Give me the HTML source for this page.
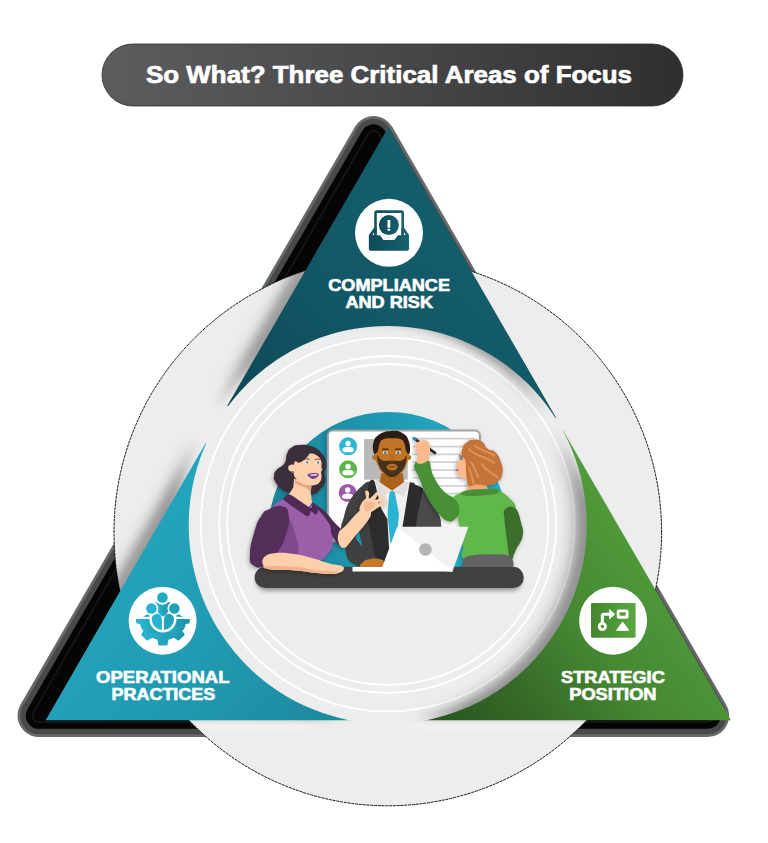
<!DOCTYPE html>
<html>
<head>
<meta charset="utf-8">
<title>So What? Three Critical Areas of Focus</title>
<style>
  html, body { margin: 0; padding: 0; background: #ffffff; }
  body { width: 768px; height: 843px; overflow: hidden; font-family: "Liberation Sans", sans-serif; }
  svg { display: block; }
  text { font-family: "Liberation Sans", sans-serif; font-weight: bold; fill: #ffffff; stroke: #ffffff; stroke-width: 0.6px; }
</style>
</head>
<body>
<svg width="768" height="843" viewBox="0 0 768 843">
  <defs>
    <linearGradient id="gTitle" x1="0" y1="0" x2="1" y2="0">
      <stop offset="0" stop-color="#5c5d5f"/>
      <stop offset="0.45" stop-color="#4a4a4c"/>
      <stop offset="1" stop-color="#2f2f30"/>
    </linearGradient>
    <linearGradient id="gTeal" gradientUnits="userSpaceOnUse" x1="470" y1="180" x2="260" y2="420">
      <stop offset="0" stop-color="#145f6d"/>
      <stop offset="0.55" stop-color="#125766"/>
      <stop offset="1" stop-color="#0e4956"/>
    </linearGradient>
    <linearGradient id="gBlue" gradientUnits="userSpaceOnUse" x1="120" y1="560" x2="330" y2="740">
      <stop offset="0" stop-color="#23a4bc"/>
      <stop offset="0.5" stop-color="#2099b0"/>
      <stop offset="1" stop-color="#1c889d"/>
    </linearGradient>
    <linearGradient id="gGreen" gradientUnits="userSpaceOnUse" x1="690" y1="560" x2="470" y2="740">
      <stop offset="0" stop-color="#529f3c"/>
      <stop offset="0.45" stop-color="#458832"/>
      <stop offset="0.75" stop-color="#376b28"/>
      <stop offset="1" stop-color="#2b5820"/>
    </linearGradient>
    <!-- coloured triangle minus inner disc -->
    <clipPath id="clipOuter"><circle cx="387.8" cy="532" r="273.8"/></clipPath>
    <mask id="mTri">
      <rect x="0" y="0" width="768" height="843" fill="#000"/>
      <polygon points="388.3,127 731.3,720.5 45.3,720.5" fill="#fff"/>
      <circle cx="387.7" cy="525" r="199" fill="#000"/>
    </mask>
    <linearGradient id="gShDisc" gradientUnits="userSpaceOnUse" x1="320" y1="0" x2="470" y2="0">
      <stop offset="0" stop-color="#000"/><stop offset="1" stop-color="#fff"/>
    </linearGradient>
    <mask id="mShDisc"><rect x="0" y="0" width="768" height="843" fill="#fff"/><circle cx="387.7" cy="525" r="199" fill="url(#gShDisc)"/></mask>
    <mask id="mNoDisc"><rect x="0" y="0" width="768" height="843" fill="#fff"/><circle cx="387.7" cy="525" r="199" fill="#000"/></mask>
    <filter id="blur5" x="-20%" y="-20%" width="140%" height="140%"><feGaussianBlur stdDeviation="5"/></filter>
    <clipPath id="clipIllu"><rect x="250" y="400" width="290" height="176"/></clipPath>
    <filter id="ds" x="-20%" y="-20%" width="140%" height="140%"><feDropShadow dx="-1" dy="1.5" stdDeviation="2.2" flood-color="#000" flood-opacity="0.32"/></filter>
    <clipPath id="clipAboveTable"><rect x="240" y="400" width="300" height="167"/></clipPath>
    <linearGradient id="gBgBlue" gradientUnits="userSpaceOnUse" x1="273" y1="0" x2="509" y2="0">
      <stop offset="0" stop-color="#1b879d"/><stop offset="0.5" stop-color="#1f9ab2"/><stop offset="1" stop-color="#28b3cf"/>
    </linearGradient>
    <filter id="blur8" x="-20%" y="-20%" width="140%" height="140%"><feGaussianBlur stdDeviation="8"/></filter>
    <filter id="blur4" x="-20%" y="-20%" width="140%" height="140%"><feGaussianBlur stdDeviation="4"/></filter>
    <filter id="blur6" x="-20%" y="-20%" width="140%" height="140%"><feGaussianBlur stdDeviation="6"/></filter>
    <filter id="blur2" x="-20%" y="-20%" width="140%" height="140%"><feGaussianBlur stdDeviation="2"/></filter>
    <radialGradient id="rimFade" gradientUnits="userSpaceOnUse" cx="387.7" cy="525" r="199">
      <stop offset="0" stop-color="#000"/>
      <stop offset="0.90" stop-color="#000"/>
      <stop offset="1" stop-color="#fff"/>
    </radialGradient>
    <mask id="mRim"><circle cx="387.7" cy="525" r="199" fill="url(#rimFade)"/></mask>
    <clipPath id="clipDisc"><circle cx="387.7" cy="525" r="199"/></clipPath>
    <linearGradient id="gIconTeal" x1="0" y1="0" x2="1" y2="0">
      <stop offset="0" stop-color="#0f4b58"/><stop offset="1" stop-color="#16606e"/>
    </linearGradient>
    <linearGradient id="gIconBlue" x1="0" y1="0" x2="1" y2="0">
      <stop offset="0" stop-color="#2bb8d4"/><stop offset="1" stop-color="#1f93a9"/>
    </linearGradient>
    <linearGradient id="gIconGreen" x1="0" y1="0" x2="1" y2="0">
      <stop offset="0" stop-color="#43862f"/><stop offset="1" stop-color="#58a742"/>
    </linearGradient>
  </defs>

  <!-- ===== Title pill ===== -->
  <g id="title">
    <rect x="102" y="44" width="581" height="62" rx="31" ry="31" fill="url(#gTitle)" stroke="#2c2c2d" stroke-width="0.8"/>
    <text id="titleText" x="389" y="83" font-size="24" style="stroke-width:0.7px" text-anchor="middle" textLength="486" lengthAdjust="spacingAndGlyphs">So What? Three Critical Areas of Focus</text>
  </g>

  <!-- ===== Black rounded shadow triangle ===== -->
  <g id="blackTri" stroke-linejoin="round" fill="none">
    <polygon points="373.6,137.6 707.6,715.6 39.0,715.6" stroke="#68696b" stroke-width="43" fill="#68696b"/>
    <polygon points="373.6,137.6 707.6,715.6 39.0,715.6" stroke="#48494b" stroke-width="37.5" fill="#48494b"/>
    <polygon points="373.6,137.6 707.6,715.6 39.0,715.6" stroke="#050505" stroke-width="26.5" fill="#050505"/>
    <polygon points="373.6,137.6 707.6,715.6 39.0,715.6" stroke="#151515" stroke-width="15" fill="none"/>
    <polygon points="373.6,137.6 707.6,715.6 39.0,715.6" stroke="#050505" stroke-width="11" fill="#050505"/>
  </g>

  <!-- ===== Outer grey circle ===== -->
  <circle cx="387.8" cy="532" r="273.8" fill="#ededed"/>
  <circle cx="387.8" cy="532" r="273.8" fill="none" stroke="#081616" stroke-width="1" stroke-dasharray="3 0.8" opacity="1"/>

  <!-- ===== Inner disc ===== -->
  <g id="disc">
    <circle cx="387.7" cy="525" r="199" fill="#ededed"/>
    <g fill="none" stroke="#ffffff" stroke-width="1.9">
      <circle cx="387.7" cy="524.5" r="186.9"/>
      <circle cx="387.7" cy="524.5" r="168.5"/>
      <circle cx="387.7" cy="524.5" r="160.5"/>
    </g>
  </g>

  <!-- ===== Shadows cast on grey circle ===== -->
  <g id="shadows" clip-path="url(#clipOuter)">
    <g mask="url(#mNoDisc)">
      <g transform="translate(-26,5)" filter="url(#blur5)" fill="#ffffff" opacity="0.7"><g mask="url(#mTri)">
      <polygon points="388.3,127 556.2,417.6 388,525 226.8,405.6"/>
      <polygon points="45.3,720.5 204.9,443 388,525 351,720.5"/>
      <polygon points="731.3,720.5 563.4,431 388,525 423.6,720.5"/>
      </g></g>
    </g>
    <g mask="url(#mShDisc)">
    <g transform="translate(-17,-4)" filter="url(#blur6)" fill="#000000" opacity="0.17"><g mask="url(#mTri)">
      <polygon points="388.3,127 556.2,417.6 388,525 226.8,405.6"/>
      <polygon points="45.3,720.5 204.9,443 388,525 351,720.5"/>
      <polygon points="731.3,720.5 563.4,431 388,525 423.6,720.5"/>
    </g></g>
    <g transform="translate(-9,-2)" filter="url(#blur4)" fill="#000000" opacity="0.25"><g mask="url(#mTri)">
      <polygon points="388.3,127 556.2,417.6 388,525 226.8,405.6"/>
      <polygon points="45.3,720.5 204.9,443 388,525 351,720.5"/>
      <polygon points="731.3,720.5 563.4,431 388,525 423.6,720.5"/>
    </g></g>
    </g>
  </g>

  <!-- ===== Coloured triangle pieces ===== -->
  <g id="pieces" mask="url(#mTri)">
    <polygon points="388.3,127 556.2,417.6 388,525 226.8,405.6" fill="url(#gTeal)"/>
    <polygon points="45.3,720.5 204.9,443 388,525 351,720.5" fill="url(#gBlue)"/>
    <polygon points="731.3,720.5 563.4,431 388,525 423.6,720.5" fill="url(#gGreen)"/>
  </g>

  <!-- ===== Illustration ===== -->
  <g id="illustration">
<g clip-path="url(#clipIllu)"><circle cx="388.6" cy="532.2" r="120.3" fill="url(#gBgBlue)"/></g>
<rect x="324.5" y="431" width="156" height="112" rx="6" fill="#000" opacity="0.16" filter="url(#blur2)"/>
<rect x="327.9" y="430.5" width="152" height="111" rx="5" fill="#ffffff" stroke="#a3a3a3" stroke-width="2"/>
<rect x="364.1" y="439.1" width="43.6" height="40.6" fill="#b9b9b9"/>
<line x1="412.5" y1="438.7" x2="475" y2="438.7" stroke="#d3d3d3" stroke-width="1.8"/>
<line x1="412.5" y1="446.6" x2="475" y2="446.6" stroke="#d3d3d3" stroke-width="1.8"/>
<line x1="412.5" y1="454.4" x2="475" y2="454.4" stroke="#d3d3d3" stroke-width="1.8"/>
<line x1="412.5" y1="462.2" x2="475" y2="462.2" stroke="#d3d3d3" stroke-width="1.8"/>
<line x1="412.5" y1="470.1" x2="475" y2="470.1" stroke="#d3d3d3" stroke-width="1.8"/>
<line x1="412.5" y1="477.9" x2="475" y2="477.9" stroke="#d3d3d3" stroke-width="1.8"/>
<line x1="412.5" y1="485.8" x2="475" y2="485.8" stroke="#d3d3d3" stroke-width="1.8"/>
<line x1="412.5" y1="493.6" x2="475" y2="493.6" stroke="#d3d3d3" stroke-width="1.8"/>
<circle cx="348.1" cy="446.3" r="9" fill="#2bb6d6"/>
<circle cx="348.1" cy="443.4" r="2.65" fill="#ffffff"/>
<path d="M342.2,450.4 C342.2,447.9 345.1,446.8 348.1,446.8 C351.1,446.8 354.0,447.9 354.0,450.4 C354.0,451.7 351.1,452.3 348.1,452.3 C345.1,452.3 342.2,451.7 342.2,450.4 Z" fill="#ffffff"/>
<circle cx="348.1" cy="469.3" r="9" fill="#5cb848"/>
<circle cx="348.1" cy="466.4" r="2.65" fill="#ffffff"/>
<path d="M342.2,473.4 C342.2,470.9 345.1,469.8 348.1,469.8 C351.1,469.8 354.0,470.9 354.0,473.4 C354.0,474.7 351.1,475.3 348.1,475.3 C345.1,475.3 342.2,474.7 342.2,473.4 Z" fill="#ffffff"/>
<circle cx="347.7" cy="492.9" r="9" fill="#9b5aa8"/>
<circle cx="347.7" cy="490.0" r="2.65" fill="#ffffff"/>
<path d="M341.8,497.0 C341.8,494.5 344.7,493.4 347.7,493.4 C350.7,493.4 353.6,494.5 353.6,497.0 C353.6,498.3 350.7,498.9 347.7,498.9 C344.7,498.9 341.8,498.3 341.8,497.0 Z" fill="#ffffff"/>
<g id="table"><rect x="256" y="571" width="266" height="20" rx="10" fill="#000" opacity="0.35" filter="url(#blur2)"/>
<rect x="254.6" y="566.8" width="269.2" height="21.2" rx="10.6" fill="#414141"/></g>
<g id="man" clip-path="url(#clipAboveTable)"><path d="M374.5,481.0 C365.0,481.7 367.1,481.8 362.0,486.0 C356.9,490.2 352.8,495.2 349.0,502.0 C345.2,508.8 344.6,515.2 343.0,520.0 C341.4,524.8 341.8,522.2 341.2,526.0 C340.7,529.9 339.8,535.1 340.3,539.1 C340.9,543.0 339.7,540.3 343.9,545.8 C348.0,551.4 341.6,562.5 361.0,566.9 C380.5,571.4 424.9,575.9 441.0,568.0 C457.1,560.1 442.0,538.5 441.3,527.2 C440.6,515.9 440.0,517.9 437.5,511.4 C434.9,504.9 432.7,499.7 428.5,494.5 C424.2,489.3 419.8,487.9 416.1,485.5 C412.3,483.0 418.0,483.2 409.7,482.3 C401.4,481.4 384.0,480.2 374.5,481.0 Z" fill="#404040" />
<path d="M358.7,530.2 L362.5,547.1 L355.3,538.0 Z" fill="#1f97af" />
<path d="M421.7,492.3 C423.9,488.0 425.3,490.7 428.5,494.5 C431.6,498.3 434.9,504.9 437.5,511.4 C440.0,517.9 440.5,520.4 441.3,527.2 C442.1,533.9 446.8,541.6 441.3,545.2 C435.8,548.8 418.6,551.1 413.8,545.2 C409.0,539.4 415.6,526.5 417.2,515.9 C418.8,505.3 419.4,496.5 421.7,492.3 Z" fill="#4a4a4a" />
<path d="M409.7,482.3 L423.3,488.2 L417.2,515.9 L413.8,545.2 L398.0,545.2 L401.4,518.2 Z" fill="#2b2b2b" />
<path d="M374.5,481.0 C372.0,478.8 370.1,479.6 368.9,483.9 C367.7,488.1 365.7,507.4 365.7,513.0 C365.8,518.6 368.5,522.6 369.2,526.0 C370.0,529.5 370.6,534.9 371.5,539.1 C372.3,543.2 373.8,554.5 375.4,557.3 C377.0,560.1 381.9,560.9 383.6,560.2 C385.3,559.5 387.1,554.4 388.1,552.1 C389.2,549.8 391.4,548.2 391.4,543.0 C391.4,537.8 388.6,518.8 388.1,513.0 C387.7,507.3 389.7,504.3 387.9,500.0 C386.0,495.7 377.0,483.1 374.5,481.0 Z" fill="#2c2c2c" />
<path d="M374.5,481.0 L409.7,482.3 L402.8,525.0 L398.0,548.0 L389.0,548.0 L387.4,519.0 L381.2,508.5 Z" fill="#f0f0f0" />
<path d="M381.4,473.2 L402.8,473.2 L404.1,482.3 L392.1,490.8 L379.5,482.3 Z" fill="#a9631d" />
<path d="M374.5,481.0 L379.7,481.9 L391.0,491.7 L381.4,496.0 Z" fill="#dfdfdf" />
<path d="M409.7,482.3 L404.1,482.0 L393.1,491.7 L404.1,496.4 Z" fill="#dfdfdf" />
<path d="M390.0,491.2 L394.4,491.2 L395.4,495.5 L399.0,514.0 L397.0,535.0 L391.2,543.5 L390.4,543.0 L387.5,514.0 L389.2,495.5 Z" fill="#29b3d4" />
<circle cx="374.9" cy="457.3" r="2.6" fill="#b86d22"/>
<circle cx="408.6" cy="457.3" r="2.6" fill="#b86d22"/>
<path d="M375.8,444.5 C371.3,449.7 374.7,450.2 375.2,455.6 C375.6,461.0 375.3,460.0 377.5,464.7 C379.7,469.4 379.3,470.0 383.2,473.2 C387.1,476.4 387.4,476.7 392.1,476.7 C396.8,476.7 397.1,476.4 400.9,473.2 C404.8,470.0 404.4,469.4 406.4,464.7 C408.4,460.0 408.1,461.0 408.5,455.6 C408.8,450.2 412.1,449.7 407.7,444.5 C403.3,439.3 400.6,436.1 392.1,436.1 C383.6,436.1 380.3,439.3 375.8,444.5 Z" fill="#bf7426" />
<path d="M374.1,453.4 C373.1,451.6 372.2,447.6 373.3,443.2 C374.4,438.9 374.7,437.6 378.8,434.8 C382.9,431.9 385.2,431.4 390.8,431.0 C396.4,430.6 398.5,430.7 402.8,433.2 C407.0,435.7 407.4,437.0 409.0,441.7 C410.6,446.4 410.2,451.2 409.5,453.4 C408.9,455.6 407.3,453.1 406.1,451.0 C405.0,449.0 405.9,447.2 404.7,444.5 C403.6,441.9 404.1,441.0 401.2,439.6 C398.3,438.1 396.3,438.3 392.1,438.3 C387.8,438.3 385.9,438.1 383.0,439.6 C380.0,441.0 380.5,441.9 379.3,444.5 C378.1,447.2 379.0,449.0 377.8,451.0 C376.5,453.1 375.1,455.2 374.1,453.4 Z" fill="#2b1d14" />
<path d="M377.5,455.2 C377.1,456.4 377.0,460.0 378.5,464.1 C380.1,468.1 380.9,469.6 384.0,472.7 C387.2,475.7 388.3,477.0 392.1,477.0 C395.9,477.0 397.0,475.7 400.2,472.7 C403.3,469.6 404.0,468.1 405.5,464.1 C407.0,460.0 406.7,456.4 406.4,455.2 C406.1,454.1 405.8,457.7 404.1,459.1 C402.3,460.5 401.6,460.8 398.9,461.1 C396.1,461.3 395.2,460.2 392.1,460.2 C388.9,460.2 388.1,461.3 385.3,461.1 C382.5,460.8 381.9,460.5 380.1,459.1 C378.3,457.7 377.9,454.1 377.5,455.2 Z" fill="#44301b" />
<ellipse cx="392.1" cy="467.1" rx="5.6" ry="3.4" fill="#b96f24"/>
<rect x="389.0" y="466.1" width="6.4" height="1.2" fill="#7f4718"/>
<ellipse cx="385.3" cy="452.7" rx="2.8" ry="1.4" fill="#e8e2da"/>
<circle cx="385.3" cy="452.7" r="1.25" fill="#55667c"/>
<rect x="382.0" y="448.6" width="6.6" height="1.1" fill="#2b1d14"/>
<ellipse cx="398.2" cy="452.7" rx="2.8" ry="1.4" fill="#e8e2da"/>
<circle cx="398.2" cy="452.7" r="1.25" fill="#55667c"/>
<rect x="394.9" y="448.6" width="6.6" height="1.1" fill="#2b1d14"/>
<path d="M391.0,454.3 L393.4,454.3 L394.4,461.5 L390.0,461.5 Z" fill="#b0681f" opacity="0.55"/>
<path d="M362.1,567.7 C357.4,566.4 360.9,564.0 362.9,562.0 C364.9,559.9 366.5,559.5 370.7,558.9 C375.0,558.2 378.0,558.3 381.1,559.4 C384.3,560.5 383.8,561.6 384.3,563.5 C384.8,565.5 388.4,566.7 383.2,567.7 C378.1,568.7 366.9,569.0 362.1,567.7 Z" fill="#c47a2a" /></g>
<g id="lwoman" filter="url(#ds)"><path d="M299.5,445.0 C304.7,444.6 305.5,444.2 311.2,446.3 C316.9,448.4 317.0,448.4 321.0,452.8 C324.9,457.1 325.0,457.2 325.9,462.6 C326.8,467.9 324.7,467.9 324.5,473.0 C324.3,478.0 326.2,477.3 325.3,481.4 C324.3,485.6 324.4,485.1 321.0,488.6 C317.6,492.1 317.5,493.8 312.5,494.5 C307.5,495.1 308.0,491.7 302.1,491.2 C296.2,490.7 295.7,493.0 290.4,492.5 C285.0,492.0 285.9,492.0 281.9,489.2 C277.9,486.5 277.5,485.7 275.4,482.1 C273.3,478.4 273.7,478.9 274.1,475.6 C274.4,472.3 273.9,473.0 276.7,469.7 C279.5,466.4 281.7,467.5 284.5,463.2 C287.3,458.9 285.2,457.6 287.1,453.4 C289.0,449.3 288.4,449.8 291.7,447.6 C295.0,445.3 294.3,445.3 299.5,445.0 Z" fill="#3a2f3a" />
<path d="M273.8,505.8 C278.1,500.0 283.4,499.6 288.5,498.3 C293.5,497.1 293.2,497.5 299.0,499.7 C304.9,501.9 311.6,504.6 317.7,509.2 C323.9,513.8 326.6,516.4 329.7,522.7 C332.8,529.0 333.7,534.4 333.3,540.7 C332.8,547.0 331.2,550.3 327.4,554.2 C323.7,558.2 325.5,560.3 314.4,560.5 C303.2,560.8 281.0,562.0 271.5,555.4 C262.1,548.7 266.6,537.1 267.0,527.2 C267.5,517.3 269.5,511.5 273.8,505.8 Z" fill="#9b5fa9" />
<path d="M286.2,515.9 C288.0,514.1 290.7,519.5 293.0,527.2 C295.2,534.8 301.3,548.8 297.5,554.2 C293.6,559.6 276.5,557.8 273.8,554.2 C271.1,550.6 281.5,543.9 283.9,536.2 C286.4,528.5 284.4,517.7 286.2,515.9 Z" fill="#7f4a8b" />
<path d="M316.2,506.5 C315.4,504.1 321.5,508.6 325.2,511.9 C328.9,515.1 330.4,517.8 334.6,522.7 C338.9,527.5 344.7,531.1 346.4,536.2 C348.1,541.2 346.0,547.9 343.2,547.9 C340.4,547.9 335.2,541.0 332.4,536.2 C329.6,531.4 332.5,529.8 329.2,523.8 C326.0,517.9 317.0,508.8 316.2,506.5 Z" fill="#482951" />
<path d="M294.0,478.8 L311.5,484.7 L310.7,492.5 L312.0,502.9 L307.3,508.1 L288.8,494.8 L293.4,487.3 Z" fill="#fdd0ab" />
<path d="M294.3,480.1 L311.5,485.3 L310.9,491.8 L304.7,487.3 L295.6,484.0 Z" fill="#e5a582" />
<path d="M287.8,494.8 C288.7,494.6 288.9,493.8 291.9,495.5 C295.0,497.2 307.9,506.9 310.5,507.9 C313.2,508.9 311.0,503.1 312.0,502.9 C313.0,502.7 317.3,504.8 318.0,506.2 C318.7,507.6 317.7,512.3 317.3,513.3 C316.9,514.4 316.0,514.6 315.1,514.2 C314.2,513.9 311.4,510.8 310.7,511.0 C309.9,511.2 310.2,515.0 309.4,515.5 C308.6,516.1 308.0,516.9 304.7,514.9 C301.4,512.9 287.1,503.0 284.5,500.6 C281.9,498.2 284.5,497.8 284.9,497.1 C285.3,496.3 286.8,495.1 287.8,494.8 Z" fill="#4f2c56" />
<path d="M269.3,509.2 C275.1,506.6 277.6,504.6 282.8,506.5 C288.0,508.3 288.0,508.0 288.7,515.9 C289.4,523.8 288.9,526.0 285.5,536.2 C282.2,546.4 281.5,546.4 276.1,554.2 C270.6,562.0 271.2,562.5 265.2,565.5 C259.2,568.5 257.6,568.5 253.5,565.5 C249.4,562.5 249.7,563.2 249.9,554.2 C250.2,545.2 251.4,541.9 254.4,531.7 C257.4,521.5 257.2,521.9 261.2,515.9 C265.1,509.9 263.5,511.7 269.3,509.2 Z" fill="#532e59" />
<circle cx="291.9" cy="467.8" r="3.7" fill="#fdd0ab"/>
<path d="M294.0,460.6 C295.2,456.6 294.7,457.2 297.9,455.4 C301.1,453.6 301.1,454.0 306.0,453.8 C310.9,453.7 312.4,452.9 316.4,454.7 C320.4,456.5 319.7,457.2 321.1,460.6 C322.4,464.0 321.1,465.0 321.5,467.5 C321.8,470.0 322.5,468.7 322.4,469.8 C322.3,471.0 321.3,470.2 321.1,471.9 C320.9,473.7 321.8,473.8 321.5,476.4 C321.2,478.9 321.6,479.3 320.1,481.6 C318.5,483.8 318.8,483.9 315.8,484.8 C312.7,485.8 312.6,485.6 308.6,485.1 C304.6,484.6 304.3,484.7 300.8,482.9 C297.3,481.0 297.5,481.5 295.6,478.2 C293.6,474.8 293.9,475.1 293.5,470.4 C293.1,465.7 292.8,464.6 294.0,460.6 Z" fill="#fdd0ab" />
<path d="M288.5,462.6 C288.4,459.2 286.8,457.3 289.1,453.4 C291.3,449.5 293.0,447.5 298.2,445.9 C303.3,444.3 305.8,444.9 311.2,446.7 C316.6,448.4 317.9,449.6 321.4,453.4 C324.8,457.3 325.3,459.3 326.0,463.2 C326.8,467.2 325.5,469.0 324.7,470.4 C324.0,471.7 323.6,471.2 322.9,469.1 C322.2,466.9 322.8,464.0 321.6,461.0 C320.4,458.0 320.2,458.0 317.7,456.0 C315.2,454.0 313.0,452.7 310.9,452.4 C308.9,452.1 310.3,453.1 308.9,454.7 C307.4,456.3 306.9,457.5 304.7,459.3 C302.5,461.1 301.6,462.1 299.5,462.6 C297.4,463.0 296.8,460.9 295.6,461.2 C294.3,461.6 294.6,462.3 294.0,464.1 C293.4,465.9 294.0,468.2 293.0,469.1 C292.0,469.9 290.7,469.3 289.7,467.8 C288.7,466.2 288.7,465.9 288.5,462.6 Z" fill="#3a2f3a" />
<circle cx="292.2" cy="468.0" r="3.4" fill="#fdd0ab"/>
<circle cx="292.1" cy="472.6" r="1.0" fill="#8b4a9b"/>
<ellipse cx="306.9" cy="462.4" rx="2.5" ry="1.3" fill="#f4f1ee"/>
<circle cx="307.2" cy="462.4" r="1.15" fill="#60708a"/>
<path d="M304.1,459.5 q2.6,-1.6 5.4,-0.2" stroke="#3a2f3a" stroke-width="0.8" fill="none"/>
<ellipse cx="317.8" cy="462.7" rx="2.5" ry="1.3" fill="#f4f1ee"/>
<circle cx="318.1" cy="462.7" r="1.15" fill="#60708a"/>
<path d="M315.0,459.8 q2.6,-1.6 5.4,-0.2" stroke="#3a2f3a" stroke-width="0.8" fill="none"/>
<path d="M308.3,473.9 C310.1,473.1 316.2,472.7 318.0,473.4 C319.8,474.0 318.3,476.0 317.3,477.1 C316.3,478.3 314.6,479.1 313.0,479.1 C311.4,479.1 310.3,478.2 309.4,477.1 C308.4,476.1 306.6,474.6 308.3,473.9 Z" fill="#7a3f8e" />
<path d="M310.2,474.4 L317.1,474.0 L316.8,475.6 L310.7,475.8 Z" fill="#f6f0f4" />
<path d="M338.7,532.8 C340.1,529.3 341.1,530.2 345.9,525.4 C350.7,520.6 357.9,510.7 362.8,508.7 C367.8,506.7 372.7,509.4 370.7,515.5 C368.7,521.5 358.0,532.4 352.7,538.9 C347.4,545.4 346.9,547.1 344.1,547.9 C341.3,548.7 339.8,546.0 338.7,543.0 C337.6,539.9 337.3,536.3 338.7,532.8 Z" fill="#fdd0ab" />
<path d="M359.5,509.6 C359.2,507.5 361.3,503.8 362.4,501.8 C363.5,499.9 365.6,499.5 366.0,497.9 C366.5,496.3 365.0,493.3 365.1,492.1 C365.3,490.8 366.4,490.4 367.1,490.5 C367.7,490.6 368.6,491.4 369.0,492.7 C369.4,494.1 368.1,498.8 369.6,498.6 C371.0,498.3 376.1,492.2 377.8,491.1 C379.4,490.1 380.0,490.6 379.6,492.1 C379.2,493.5 374.7,499.3 375.4,499.9 C376.1,500.5 382.2,496.1 383.9,495.7 C385.5,495.3 386.3,496.2 385.3,497.4 C384.3,498.6 377.8,502.5 378.0,503.1 C378.2,503.7 385.0,501.1 386.5,501.0 C388.0,501.0 388.5,501.8 387.1,502.9 C385.8,503.9 381.2,505.8 378.5,507.3 C375.9,508.8 373.7,510.7 371.2,512.0 C368.8,513.2 366.0,515.2 364.1,514.8 C362.1,514.5 359.8,511.8 359.5,509.6 Z" fill="#fdd0ab" />
<path d="M364.7,503.1 C366.1,500.7 367.8,501.5 370.6,501.8 C373.4,502.2 375.0,502.3 375.2,504.4 C375.3,506.5 373.9,507.9 371.2,509.6 C368.6,511.4 367.1,512.7 365.4,510.9 C363.7,509.2 363.4,505.6 364.7,503.1 Z" fill="#eeb08c" opacity="0.7"/>
<path d="M264.3,556.9 C266.9,554.4 269.7,553.4 276.1,552.9 C282.5,552.3 288.7,553.1 296.3,554.2 C304.0,555.4 307.6,556.8 314.4,558.7 C321.1,560.6 324.6,562.2 330.1,563.7 C335.6,565.1 339.2,564.8 341.9,565.9 C344.6,567.1 344.2,568.2 343.7,569.5 C343.1,570.9 341.9,571.8 339.2,572.7 C336.5,573.6 335.1,574.1 330.1,574.1 C325.2,574.1 321.1,573.4 314.4,572.7 C307.6,572.0 304.9,571.1 296.3,570.5 C287.8,569.8 278.1,570.5 271.5,569.5 C265.0,568.6 264.9,568.0 263.4,565.5 C262.0,563.0 261.8,559.5 264.3,556.9 Z" fill="#fdd0ab" />
<path d="M265.2,566.4 C270.2,565.9 286.5,566.1 296.3,566.8 C306.2,567.6 306.7,569.1 314.4,570.0 C322.0,570.9 330.4,570.6 334.6,571.4 C338.9,572.1 339.8,573.3 335.8,573.6 C331.7,573.9 322.3,573.3 314.4,572.7 C306.5,572.1 304.9,571.1 296.3,570.5 C287.8,569.8 277.8,570.4 271.5,569.5 C265.3,568.7 260.3,566.9 265.2,566.4 Z" fill="#f3b48d" /></g>
<g id="rwoman" clip-path="url(#clipAboveTable)" filter="url(#ds)"><path d="M468.0,480.3 L484.7,482.9 L489.2,490.8 L467.5,490.8 Z" fill="#f3a67a" />
<path d="M451.7,501.3 C452.4,496.1 456.1,494.9 461.6,492.5 C467.1,490.1 472.0,489.8 479.2,489.3 C486.3,488.9 490.8,488.2 497.2,490.2 C503.6,492.3 507.4,495.7 511.2,499.7 C514.9,503.7 515.7,503.7 516.1,510.3 C516.6,516.9 514.6,523.4 513.4,532.8 C512.2,542.3 519.7,552.3 510.3,557.6 C500.8,562.9 475.5,561.7 466.1,559.2 C456.6,556.7 464.6,553.4 462.9,545.2 C461.3,537.0 460.0,527.0 457.7,518.2 C455.5,509.4 450.9,506.4 451.7,501.3 Z" fill="#5fb848" />
<path d="M461.0,493.0 C462.7,491.8 464.1,490.8 469.1,490.0 C474.0,489.2 476.0,489.8 482.1,489.5 C488.2,489.1 491.2,488.3 495.1,488.7 C499.0,489.0 498.6,489.6 498.6,490.9 C498.6,492.2 499.0,493.1 495.1,494.1 C491.2,495.2 488.5,495.0 482.1,495.4 C475.7,495.9 472.5,496.2 467.8,496.1 C463.0,495.9 463.2,495.5 461.6,494.8 C460.1,494.1 459.3,494.1 461.0,493.0 Z" fill="#4a8f35" />
<path d="M505.1,509.2 C507.6,506.7 511.5,505.1 515.2,508.3 C518.9,511.4 519.3,516.2 521.1,522.7 C522.8,529.2 523.9,529.8 522.6,536.2 C521.4,542.6 518.3,544.3 515.7,550.2 C513.0,556.1 512.7,560.4 511.2,561.4 C509.6,562.5 510.0,560.6 508.9,554.7 C507.8,548.8 507.5,544.6 506.4,536.2 C505.4,527.8 504.7,524.9 504.4,518.6 C504.1,512.3 502.5,511.6 505.1,509.2 Z" fill="#3a6e29" />
<path d="M464.7,557.8 C465.9,556.1 470.9,555.4 474.6,554.9 C478.4,554.4 488.0,554.1 492.7,554.2 C497.4,554.4 507.4,554.2 509.8,556.0 C512.2,557.9 516.6,566.6 510.7,568.2 C504.8,569.8 471.8,569.6 465.6,568.2 C459.5,566.8 463.5,559.6 464.7,557.8 Z" fill="#636466" />
<path d="M414.5,464.1 C416.5,459.9 423.4,457.4 427.8,460.0 C432.1,462.7 429.5,468.1 433.2,475.4 C436.9,482.6 438.5,485.6 443.5,491.1 C448.6,496.7 451.1,495.0 454.8,499.2 C458.5,503.4 459.1,504.6 459.3,509.2 C459.5,513.7 458.5,515.9 455.7,518.6 C453.0,521.4 451.9,522.5 447.6,520.9 C443.3,519.3 442.1,517.6 437.2,511.9 C432.4,506.1 431.1,504.0 426.9,496.1 C422.7,488.2 422.1,485.5 419.2,478.1 C416.3,470.6 412.5,468.3 414.5,464.1 Z" fill="#4a8f35" />
<line x1="414.3" y1="438.6" x2="435.0" y2="452.8" stroke="#2a2628" stroke-width="2.8" stroke-linecap="round"/>
<line x1="413.4" y1="437.9" x2="415.6" y2="439.5" stroke="#2a9dbc" stroke-width="1.8" stroke-linecap="round"/>
<path d="M416.5,443.8 C418.2,441.6 418.9,441.0 421.9,440.4 C424.9,439.8 425.6,439.6 427.8,441.5 C429.9,443.5 429.7,444.3 430.0,447.9 C430.4,451.5 429.8,451.6 429.1,455.1 C428.4,458.6 430.4,458.8 427.3,460.9 C424.2,463.1 419.9,464.7 417.4,463.2 C414.9,461.6 418.3,458.9 417.9,455.1 C417.4,451.2 416.0,451.8 415.6,448.8 C415.2,445.8 414.8,446.0 416.5,443.8 Z" fill="#fbb98e" />
<path d="M462.8,448.8 C462.3,448.7 461.4,452.8 460.7,454.9 C460.1,457.1 460.4,457.7 459.4,459.5 C458.5,461.3 456.3,462.6 455.9,464.1 C455.5,465.5 457.4,465.5 457.5,466.7 C457.6,467.8 456.2,468.7 456.3,469.9 C456.4,471.1 457.7,471.5 458.1,472.7 C458.6,473.9 457.6,474.9 458.5,475.9 C459.4,477.0 460.7,477.6 462.6,477.9 C464.4,478.2 467.0,479.1 467.8,477.3 C468.5,475.6 466.8,472.7 466.5,469.3 C466.1,465.8 466.5,462.9 465.8,460.2 C465.2,457.4 463.8,457.9 463.2,455.6 C462.6,453.3 463.3,449.0 462.8,448.8 Z" fill="#fbb98e" />
<circle cx="457.2" cy="470.1" r="1.1" fill="#8b4a9b"/>
<ellipse cx="461.2" cy="458.5" rx="1.6" ry="1.6" fill="#6a7a90"/>
<path d="M459.1,455.9 l3.6,0.5" stroke="#4a2a1a" stroke-width="0.9" fill="none"/>
<path d="M473.0,439.7 C477.1,439.5 478.2,439.2 482.1,441.7 C486.0,444.1 484.0,446.0 487.6,448.8 C491.1,451.7 491.7,448.6 495.4,452.3 C499.0,456.1 499.3,457.2 501.2,462.8 C503.1,468.3 503.3,468.2 502.4,473.2 C501.5,478.1 501.6,478.1 498.0,481.2 C494.4,484.4 494.4,484.3 488.9,485.2 C483.3,486.0 482.4,484.2 477.1,484.4 C471.9,484.5 471.8,487.1 469.1,485.8 C466.4,484.6 467.8,484.1 467.0,479.7 C466.1,475.3 466.4,474.4 465.9,469.3 C465.5,464.1 466.2,464.0 465.2,460.4 C464.1,456.8 462.7,458.9 462.0,455.7 C461.3,452.5 461.4,451.9 462.6,448.4 C463.7,444.9 463.7,444.9 466.5,442.6 C469.2,440.3 468.8,440.0 473.0,439.7 Z" fill="#c4733b" />
<path d="M469.1,449.1 C475.6,456.9 486.0,456.2 494.1,463.0" stroke="#dd9157" stroke-width="2.1" fill="none" stroke-linecap="round"/>
<path d="M474.9,445.8 C482.1,451.7 489.2,451.7 494.5,455.6" stroke="#dd9157" stroke-width="2.1" fill="none" stroke-linecap="round"/>
<path d="M471.0,462.1 C475.6,467.3 474.9,471.9 478.4,477.3" stroke="#dd9157" stroke-width="2.1" fill="none" stroke-linecap="round"/>
<path d="M482.1,464.1 C487.3,472.9 493.8,472.9 498.0,478.1" stroke="#dd9157" stroke-width="2.1" fill="none" stroke-linecap="round"/>
<path d="M469.1,468.0 C471.0,474.5 473.0,479.7 473.6,483.6" stroke="#dd9157" stroke-width="2.1" fill="none" stroke-linecap="round"/></g>
<g id="laptop"><path d="M397.3,526.8 L468.4,526.8 L452.5,571.4 L382.4,567.2 Z" fill="#f2f2f2" />
<path d="M397.3,526.8 L452.5,571.4 L382.4,567.2 Z" fill="#ffffff" />
<circle cx="425.4" cy="549.5" r="6.3" fill="#b5b5b5"/>
<path d="M352.5,566.9 L452.5,566.9 L452.5,571.6 L352.5,571.6 Z" fill="#ffffff" /></g>
  </g>

  <!-- ===== Icons + labels ===== -->
  <g id="icons">
    <!-- Compliance -->
    <circle cx="389" cy="232.8" r="34" fill="#ffffff"/>
    <g transform="translate(354,198) scale(0.09115)">
      <path d="M222,325 L222,165 Q222,135 252,135 L518,135 Q548,135 548,165 L548,325 L603,405 L603,560 Q603,580 583,580 L183,580 Q163,580 163,560 L163,405 Z" fill="url(#gIconTeal)"/>
      <path d="M250,165 L520,165 L520,408 L480,408 L448,455 Q444,462 436,462 L330,462 Q322,462 318,455 L285,408 L250,408 Z" fill="#ffffff"/>
      <path d="M222,372 L222,405 L202,405 Z M548,372 L548,405 L568,405 Z" fill="#ffffff"/>
      <rect x="222" y="325" width="29" height="90" fill="url(#gIconTeal)"/>
      <rect x="519" y="325" width="29" height="90" fill="#15606e"/>
      <circle cx="383" cy="297" r="110" fill="url(#gIconTeal)"/>
      <rect x="367" y="240" width="31" height="86" rx="4" fill="#ffffff"/>
      <rect x="367" y="336" width="31" height="23" rx="4" fill="#ffffff"/>
    </g>
    <text x="328.3" y="291.1" font-size="16.2" textLength="121.7" lengthAdjust="spacingAndGlyphs">COMPLIANCE</text>
    <text x="345.4" y="307.6" font-size="16.2" textLength="87.6" lengthAdjust="spacingAndGlyphs">AND RISK</text>

    <!-- Operational -->
    <circle cx="162.6" cy="620.7" r="34" fill="#ffffff"/>
    <g transform="translate(127,585) scale(0.09115)">
      <path d="M690.0,372.0 L686.1,420.0 L623.8,434.0 L600.3,490.6 L634.5,544.6 L566.6,612.5 L512.6,578.3 L456.0,601.8 L442.0,664.1 L346.0,664.1 L332.0,601.8 L275.4,578.3 L221.4,612.5 L153.5,544.6 L187.7,490.6 L164.2,434.0 L101.9,420.0 L98.0,372.0 Z" fill="url(#gIconBlue)"/>
      <!-- side bodies (shoulders) -->
      <ellipse cx="268" cy="424" rx="122" ry="112" fill="url(#gIconBlue)"/>
      <ellipse cx="520" cy="424" rx="122" ry="112" fill="url(#gIconBlue)"/>
      <rect x="90" y="349" width="610" height="23" fill="#ffffff"/>
      <rect x="246" y="330" width="296" height="42" fill="#ffffff"/>
      <path d="M246,372 A148,148 0 0 0 542,372 Z" fill="#ffffff"/>
      <!-- centre body -->
      <path d="M310,190 L478,190 L470,250 Q455,310 394,348 Q333,310 318,250 Z" fill="url(#gIconBlue)" stroke="#ffffff" stroke-width="0"/>
      <!-- inner halves -->
      <path d="M383,494 A122,122 0 0 1 272,372 C272,338 300,316 330,316 C362,316 383,345 383,385 Z" fill="#26b4d0"/>
      <path d="M405,494 A122,122 0 0 0 516,372 C516,338 488,316 458,316 C426,316 405,345 405,385 Z" fill="#22a4bd"/>
      <!-- heads -->
      <circle cx="268" cy="258" r="76" fill="#ffffff"/>
      <circle cx="520" cy="258" r="76" fill="#ffffff"/>
      <circle cx="389" cy="137" r="80" fill="#ffffff"/>
      <circle cx="268" cy="258" r="58" fill="#27b3cf"/>
      <circle cx="520" cy="258" r="58" fill="#22a2ba"/>
      <circle cx="389" cy="137" r="58" fill="#25aac5"/>
    </g>
    <text x="96" y="683.1" font-size="16.2" textLength="133.5" lengthAdjust="spacingAndGlyphs">OPERATIONAL</text>
    <text x="111.6" y="700.1" font-size="16.2" textLength="103.6" lengthAdjust="spacingAndGlyphs">PRACTICES</text>

    <!-- Strategic -->
    <circle cx="613.1" cy="620.7" r="34" fill="#ffffff"/>
    <g transform="translate(578,585) scale(0.09115)">
      <rect x="143" y="197" width="489" height="381" rx="12" fill="url(#gIconGreen)"/>
      <circle cx="267" cy="455" r="34" fill="none" stroke="#ffffff" stroke-width="32"/>
      <path d="M267,410 L267,338 Q267,321 284,321 L352,321" fill="none" stroke="#ffffff" stroke-width="34"/>
      <path d="M345,268 L405,320 L345,372 Z" fill="#ffffff" stroke="#ffffff" stroke-width="8" stroke-linejoin="round"/>
      <rect x="441" y="284" width="98" height="70" rx="6" fill="none" stroke="#ffffff" stroke-width="32"/>
      <path d="M490,410 L555,497 L425,497 Z" fill="#ffffff" stroke="#ffffff" stroke-width="12" stroke-linejoin="round"/>
    </g>
    <text x="561" y="683.1" font-size="16.2" textLength="103.8" lengthAdjust="spacingAndGlyphs">STRATEGIC</text>
    <text x="569.2" y="700.1" font-size="16.2" textLength="87.4" lengthAdjust="spacingAndGlyphs">POSITION</text>
  </g>
</svg>
</body>
</html>
